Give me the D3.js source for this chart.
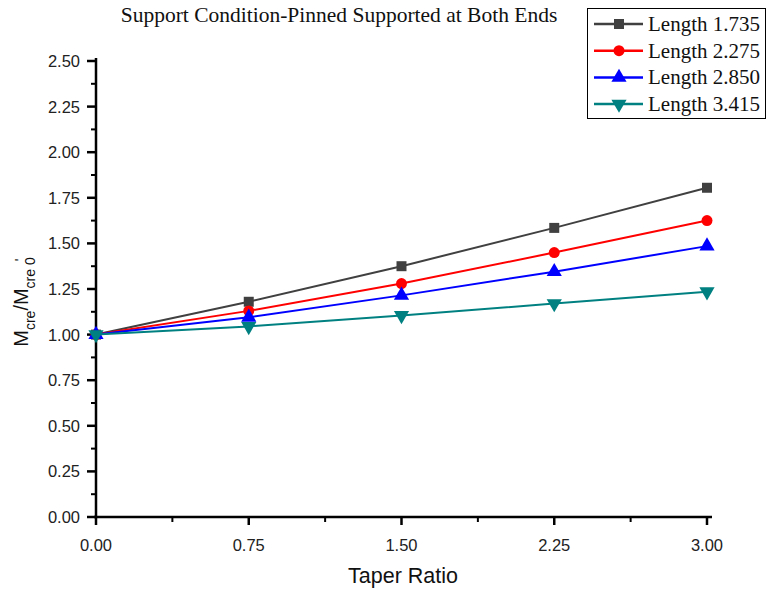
<!DOCTYPE html>
<html>
<head>
<meta charset="utf-8">
<script src="https://cdn.jsdelivr.net/npm/d3@7"></script>
<style>
body { margin: 0; background: #fff; }
</style>
</head>
<body>
<div class="vis"></div>
<script>
// chart data
const taperRatio = [0, 0.75, 1.5, 2.25, 3.0];
const seriesNames = ["Length 1.735", "Length 2.275", "Length 2.850", "Length 3.415"];
const len1735 = [1.00, 1.18, 1.375, 1.585, 1.805];
const len2275 = [1.00, 1.13, 1.28, 1.45, 1.625];
const len2850 = [1.00, 1.095, 1.215, 1.345, 1.485];
const len3415 = [1.00, 1.045, 1.105, 1.17, 1.235];
const xTicks = [0, 0.75, 1.5, 2.25, 3.0];
const yTicks = [0, 0.25, 0.5, 0.75, 1.0, 1.25, 1.5, 1.75, 2.0, 2.25, 2.5];

const colors = ["#404040", "#ff0000", "#0000ff", "#008080"];
const symbols = [d3.symbolSquare, d3.symbolCircle, d3.symbolTriangle, d3.symbolTriangle];
const symSizes = [100, 95, 100, 100];
const allSeries = [len1735, len2275, len2850, len3415];

const width = 768, height = 592;
const svg = d3.select(".vis").append("svg")
	.attr("width", width)
	.attr("height", height);

// scales
const x = d3.scaleLinear().domain([0, 3]).range([96, 707]);
const y = d3.scaleLinear().domain([0, 2.5]).range([517, 61]);

// minor ticks
const xMinor = d3.range(0.375, 3, 0.75);
const yMinor = d3.range(0.125, 2.5, 0.25);

const axisColor = "#000";
const sans = "Liberation Sans, Arial, sans-serif";
const serif = "Liberation Serif, Times New Roman, serif";

// x axis
const gx = svg.append("g").attr("transform", "translate(0,517)");
gx.append("line").attr("x1", 94).attr("x2", 712).attr("y1", 0).attr("y2", 0)
	.attr("stroke", axisColor).attr("stroke-width", 2.5);
gx.selectAll(".major").data(xTicks).enter().append("line")
	.attr("x1", d => x(d)).attr("x2", d => x(d)).attr("y1", 0).attr("y2", 8)
	.attr("stroke", axisColor).attr("stroke-width", 2.5);
gx.selectAll(".minor").data(xMinor).enter().append("line")
	.attr("x1", d => x(d)).attr("x2", d => x(d)).attr("y1", 0).attr("y2", 5)
	.attr("stroke", axisColor).attr("stroke-width", 2);
gx.selectAll("text.tl").data(xTicks).enter().append("text")
	.attr("x", d => x(d)).attr("y", 34)
	.attr("text-anchor", "middle")
	.style("font-family", sans)
	.style("font-size", "16.5px")
	.attr("fill", "#222")
	.text(d => d.toFixed(2));

// y axis
const gy = svg.append("g").attr("transform", "translate(96,0)");
gy.append("line").attr("x1", 0).attr("x2", 0).attr("y1", 518).attr("y2", 58)
	.attr("stroke", axisColor).attr("stroke-width", 2.5);
gy.selectAll(".major").data(yTicks).enter().append("line")
	.attr("x1", -9).attr("x2", 0).attr("y1", d => y(d)).attr("y2", d => y(d))
	.attr("stroke", axisColor).attr("stroke-width", 2.5);
gy.selectAll(".minor").data(yMinor).enter().append("line")
	.attr("x1", -5).attr("x2", 0).attr("y1", d => y(d)).attr("y2", d => y(d))
	.attr("stroke", axisColor).attr("stroke-width", 2);
gy.selectAll("text.tl").data(yTicks).enter().append("text")
	.attr("x", -16).attr("y", d => y(d) + 6)
	.attr("text-anchor", "end")
	.style("font-family", sans)
	.style("font-size", "16.5px")
	.attr("fill", "#222")
	.text(d => d.toFixed(2));

// lines and markers
const line = d3.line().x((d, i) => x(taperRatio[i])).y(d => y(d));
allSeries.forEach((s, k) => {
	svg.append("path")
		.datum(s)
		.attr("d", line)
		.attr("fill", "none")
		.attr("stroke", colors[k])
		.attr("stroke-width", 2);
	svg.selectAll(".m" + k).data(s).enter().append("path")
		.attr("d", d3.symbol().type(symbols[k]).size(symSizes[k]))
		.attr("transform", (d, i) => "translate(" + x(taperRatio[i]) + "," + y(d) + ")" + (k == 3 ? " rotate(180)" : ""))
		.attr("fill", colors[k]);
});

// title
svg.append("text")
	.attr("x", 339).attr("y", 22)
	.attr("text-anchor", "middle")
	.style("font-family", serif)
	.style("font-size", "21.5px")
	.attr("fill", "#111")
	.text("Support Condition-Pinned Supported at Both Ends");

// x label
svg.append("text")
	.attr("x", 403).attr("y", 583)
	.attr("text-anchor", "middle")
	.style("font-family", sans)
	.style("font-size", "21.5px")
	.attr("fill", "#111")
	.text("Taper Ratio");

// y label
const yl = svg.append("text")
	.attr("transform", "translate(28,302) rotate(-90)")
	.attr("text-anchor", "middle")
	.style("font-family", sans)
	.style("font-size", "20px")
	.attr("fill", "#111");
yl.append("tspan").text("M");
yl.append("tspan").attr("dy", 7).style("font-size", "14px").text("cre");
yl.append("tspan").attr("dy", -7).text("/M");
yl.append("tspan").attr("dy", 7).style("font-size", "14px").text("cre 0");
yl.append("tspan").attr("dy", -10).attr("dx", -4).style("font-size", "14px").text("'");

// legend
const legend = svg.append("g");
legend.append("rect")
	.attr("x", 587.5).attr("y", 8.5).attr("width", 178).attr("height", 110)
	.attr("fill", "#fff").attr("stroke", "#000").attr("stroke-width", 1);
seriesNames.forEach((name, k) => {
	const ly = 24 + k * 26.7;
	legend.append("line")
		.attr("x1", 594).attr("x2", 643).attr("y1", ly).attr("y2", ly)
		.attr("stroke", colors[k]).attr("stroke-width", 2.5);
	legend.append("path")
		.attr("d", d3.symbol().type(symbols[k]).size(symSizes[k]))
		.attr("transform", "translate(619," + ly + ")" + (k == 3 ? " rotate(180)" : ""))
		.attr("fill", colors[k]);
	legend.append("text")
		.attr("x", 648).attr("y", ly + 7)
		.style("font-family", serif)
		.style("font-size", "21px")
		.attr("fill", "#111")
		.text(name);
});
</script>
</body>
</html>
